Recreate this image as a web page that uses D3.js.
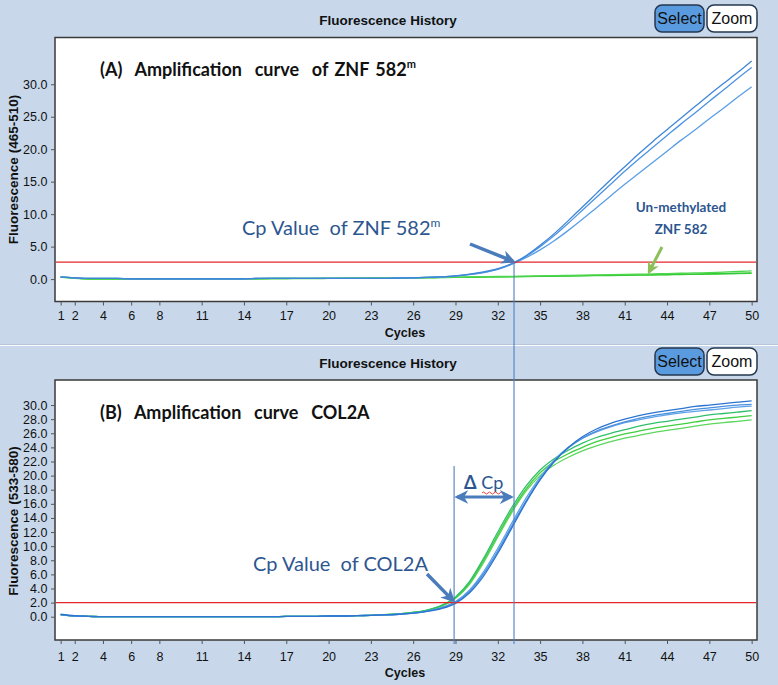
<!DOCTYPE html>
<html><head><meta charset="utf-8">
<script src="https://cdn.jsdelivr.net/npm/d3@7"></script>
<style>html,body{margin:0;padding:0;background:#c8d8ea;} svg{display:block}</style>
</head><body><svg id="c" width="778" height="685"></svg>
<script>
// ---------------- DATA ----------------
const cycles = [1,2,3,4,5,6,7,8,9,10,11,12,13,14,15,16,17,18,19,20,21,22,23,24,25,26,27,28,29,30,31,32,33,34,35,36,37,38,39,40,41,42,43,44,45,46,47,48,49,50];
const xTickLabels = [1,2,4,6,8,11,14,17,20,23,26,29,32,35,38,41,44,47,50];
const yTicksA = [0,5,10,15,20,25,30];
const yTicksB = [0,2,4,6,8,10,12,14,16,18,20,22,24,26,28,30];

// Panel A: ZNF 582 (465-510) – methylated (blue) and un-methylated (green)
const aBlue1 = [0.3,0.2,0.1,0.1,0.1,0.05,0.05,0.05,0.05,0.05,0.05,0.05,0.05,0.05,0.1,0.1,0.1,0.1,0.1,0.1,0.1,0.1,0.1,0.1,0.15,0.2,0.25,0.35,0.5,0.75,1.1,1.6,2.4,3.6,5.2,7.0,9.0,11.1,13.2,15.3,17.3,19.3,21.2,23.0,24.8,26.6,28.4,30.1,31.8,33.6];
const aBlue2 = [0.3,0.2,0.1,0.1,0.1,0.05,0.05,0.05,0.05,0.05,0.05,0.05,0.05,0.05,0.1,0.1,0.1,0.1,0.1,0.1,0.1,0.1,0.1,0.1,0.15,0.2,0.25,0.35,0.5,0.72,1.05,1.55,2.35,3.5,5.0,6.7,8.6,10.6,12.6,14.6,16.6,18.5,20.3,22.1,23.9,25.6,27.4,29.1,30.9,32.6];
const aBlue3 = [0.3,0.2,0.1,0.1,0.1,0.05,0.05,0.05,0.05,0.05,0.05,0.05,0.05,0.05,0.1,0.1,0.1,0.1,0.1,0.1,0.1,0.1,0.1,0.1,0.15,0.2,0.25,0.33,0.45,0.68,1.0,1.5,2.3,3.3,4.5,5.9,7.5,9.2,11.0,12.8,14.6,16.3,18.0,19.7,21.4,23.0,24.7,26.3,28.0,29.6];
const aGreen1 = [0.35,0.15,0.05,0.05,0.05,0.05,0.05,0.05,0.05,0.05,0.05,0.05,0.05,0.05,0.05,0.1,0.1,0.1,0.1,0.1,0.12,0.14,0.15,0.16,0.18,0.2,0.22,0.25,0.28,0.3,0.33,0.36,0.39,0.42,0.45,0.48,0.5,0.53,0.56,0.6,0.62,0.65,0.68,0.71,0.75,0.78,0.82,0.86,0.9,0.95];
const aGreen2 = [0.3,0.1,0.0,0.0,0.0,0.0,0.0,0.0,0.05,0.05,0.05,0.05,0.05,0.05,0.05,0.05,0.05,0.08,0.08,0.1,0.1,0.12,0.13,0.15,0.16,0.18,0.2,0.22,0.25,0.27,0.3,0.33,0.36,0.39,0.42,0.45,0.48,0.5,0.53,0.55,0.58,0.6,0.63,0.66,0.7,0.73,0.76,0.8,0.84,0.88];
const aGreen3 = [0.35,0.15,0.05,0.05,0.05,0.05,0.05,0.05,0.05,0.05,0.05,0.05,0.05,0.08,0.08,0.1,0.1,0.1,0.12,0.12,0.14,0.15,0.17,0.19,0.2,0.22,0.25,0.28,0.3,0.33,0.36,0.4,0.43,0.46,0.5,0.53,0.57,0.6,0.64,0.68,0.72,0.76,0.8,0.85,0.9,0.95,1.0,1.08,1.17,1.28];
const thresholdA = 2.6;
const cpA = 33.15;

// Panel B: COL2A (533-580)
const bBlue1 = [0.35,0.15,0.05,0.0,0.0,0.0,0.0,0.0,0.0,0.0,0.0,0.0,0.0,0.0,0.0,0.0,0.05,0.05,0.05,0.1,0.1,0.15,0.2,0.25,0.35,0.5,0.75,1.15,1.9,3.4,5.8,9.0,12.6,16.2,19.4,22.0,24.0,25.5,26.6,27.4,28.0,28.5,28.9,29.2,29.5,29.8,30.0,30.2,30.4,30.6];
const bBlue2 = [0.3,0.1,0.05,0.0,0.0,0.0,0.0,0.0,0.0,0.0,0.0,0.0,0.0,0.0,0.0,0.0,0.05,0.05,0.05,0.1,0.1,0.15,0.2,0.25,0.35,0.5,0.8,1.25,2.05,3.6,6.1,9.3,12.9,16.4,19.5,22.0,23.9,25.3,26.3,27.0,27.6,28.1,28.5,28.8,29.1,29.4,29.6,29.8,30.0,30.1];
const bBlue3 = [0.3,0.1,0.05,0.0,0.0,0.0,0.0,0.0,0.0,0.0,0.0,0.0,0.0,0.0,0.0,0.0,0.05,0.05,0.05,0.1,0.1,0.15,0.2,0.25,0.35,0.52,0.8,1.3,2.15,3.8,6.4,9.7,13.3,16.8,19.8,22.2,24.0,25.3,26.2,26.9,27.5,27.9,28.3,28.6,28.9,29.1,29.3,29.5,29.7,29.85];
const bGreen1 = [0.3,0.1,0.05,0.0,0.0,0.0,0.0,0.0,0.0,0.0,0.0,0.0,0.0,0.0,0.0,0.0,0.05,0.05,0.05,0.1,0.1,0.15,0.2,0.3,0.4,0.6,0.95,1.6,2.8,5.0,8.3,12.0,15.5,18.5,20.8,22.4,23.6,24.6,25.4,26.0,26.5,27.0,27.4,27.7,28.0,28.3,28.6,28.8,29.0,29.2];
const bGreen2 = [0.3,0.1,0.05,0.0,0.0,0.0,0.0,0.0,0.0,0.0,0.0,0.0,0.0,0.0,0.0,0.0,0.05,0.05,0.05,0.1,0.1,0.15,0.2,0.3,0.4,0.6,0.95,1.55,2.7,4.8,8.0,11.6,15.1,18.1,20.4,22.0,23.1,24.0,24.8,25.4,25.9,26.3,26.7,27.0,27.3,27.6,27.9,28.1,28.3,28.5];
const bGreen3 = [0.3,0.1,0.05,0.0,0.0,0.0,0.0,0.0,0.0,0.0,0.0,0.0,0.0,0.0,0.0,0.0,0.05,0.05,0.05,0.1,0.1,0.15,0.2,0.3,0.4,0.6,0.9,1.5,2.6,4.6,7.7,11.3,14.8,17.8,20.0,21.5,22.6,23.5,24.2,24.8,25.3,25.7,26.1,26.4,26.7,27.0,27.3,27.5,27.7,27.9];
const thresholdB = 2.0;
const cpB = 28.9;

// ---------------- DRAWING ----------------
const svg = d3.select('#c');
const W = 778, H = 685;
const BG = '#c8d8ea';
svg.append('rect').attr('width', W).attr('height', H).attr('fill', BG);
// separator between the two panels
svg.append('line').attr('x1',0).attr('x2',W).attr('y1',344.5).attr('y2',344.5).attr('stroke','#b3c5d9');
svg.append('line').attr('x1',0).attr('x2',W).attr('y1',345.5).attr('y2',345.5).attr('stroke','#ffffff').attr('stroke-width',1.2);

const defs = svg.append('defs');
function marker(id, color, size){
  defs.append('marker').attr('id', id).attr('viewBox','0 0 10 10').attr('refX',8).attr('refY',5)
    .attr('markerWidth', size).attr('markerHeight', size).attr('orient','auto-start-reverse')
    .attr('markerUnits','userSpaceOnUse')
    .append('path').attr('d','M0,0 L10,5 L0,10 L3,5 Z').attr('fill', color);
}
marker('arrBlue', '#4a7cbc', 14);
marker('arrGreen', '#8cbf5a', 12);

const x = d3.scaleLinear().domain([0.6, 50.38]).range([55, 757]);

function panel(cfg){
  const g = svg.append('g');
  const {top, bottom, yDomain, yTicks, fmt, offset, label} = cfg;
  const y = d3.scaleLinear().domain(yDomain).range([bottom, top]);
  // header
  g.append('text').attr('x', 388).attr('y', 25 + offset).attr('text-anchor','middle')
    .attr('font-family','Liberation Sans Narrow, Liberation Sans, Arial, sans-serif').attr('font-weight','bold')
    .attr('font-size', 13.5).attr('fill','#111').text('Fluorescence History');
  g.append('rect').attr('x',655).attr('y',5+offset).attr('width',49).attr('height',27).attr('rx',7)
    .attr('fill','#5a9be0').attr('stroke','#24374f').attr('stroke-width',1.5);
  g.append('text').attr('x',679.5).attr('y',24+offset).attr('text-anchor','middle')
    .attr('font-family','Liberation Sans Narrow, Liberation Sans, sans-serif').attr('font-size',16).attr('fill','#111').text('Select');
  g.append('rect').attr('x',707).attr('y',5+offset).attr('width',50).attr('height',27).attr('rx',7)
    .attr('fill','#ffffff').attr('stroke','#24374f').attr('stroke-width',1.5);
  g.append('text').attr('x',732).attr('y',24+offset).attr('text-anchor','middle')
    .attr('font-family','Liberation Sans Narrow, Liberation Sans, sans-serif').attr('font-size',16).attr('fill','#111').text('Zoom');
  // plot box
  g.append('rect').attr('x',55).attr('y',top).attr('width',702).attr('height',bottom-top)
    .attr('fill','#ffffff').attr('stroke','#3a3a3a').attr('stroke-width',1.5);
  // axes
  const ax = g.append('g').attr('transform',`translate(0,${bottom})`)
    .call(d3.axisBottom(x).tickValues(xTickLabels).tickSize(4).tickSizeOuter(0).tickFormat(d3.format('d')));
  ax.select('.domain').remove();
  ax.selectAll('text').attr('font-family','Liberation Sans, Arial, sans-serif').attr('font-size',12.5).attr('fill','#111')
    .attr('y', cfg.tickLabelY).attr('dy','0.35em');
  ax.selectAll('line').attr('stroke','#555');
  const ay = g.append('g').attr('transform','translate(55,0)')
    .call(d3.axisLeft(y).tickValues(yTicks).tickSize(4).tickSizeOuter(0).tickFormat(d3.format(fmt)));
  ay.select('.domain').remove();
  ay.selectAll('text').attr('font-family','Liberation Sans, Arial, sans-serif').attr('font-size',12.5).attr('fill','#111').attr('dx','-0.05em');
  ay.selectAll('line').attr('stroke','#555');
  g.append('text').attr('x',405).attr('y',bottom + cfg.cyclesY).attr('text-anchor','middle')
    .attr('font-family','Liberation Sans, Arial, sans-serif').attr('font-weight','bold').attr('font-size',12.5).attr('fill','#111').text('Cycles');
  g.append('text').attr('transform',`translate(18,${(top+bottom)/2 + cfg.labelShift}) rotate(-90)`).attr('text-anchor','middle')
    .attr('font-family','Liberation Sans, Arial, sans-serif').attr('font-weight','bold').attr('font-size',13.5).attr('fill','#111').text(label);
  // clip
  const cid = 'clip' + offset;
  defs.append('clipPath').attr('id',cid).append('rect').attr('x',56).attr('y',top+1).attr('width',700).attr('height',bottom-top-2);
  const plot = g.append('g').attr('clip-path',`url(#${cid})`);
  const line = d3.line().x((d,i)=>x(cycles[i])).y(d=>y(d)).curve(d3.curveMonotoneX);
  cfg.series.forEach(s => {
    plot.append('path').attr('d', line(s.values)).attr('fill','none').attr('stroke', s.color).attr('stroke-width', s.w || 1.3);
  });
  // threshold
  plot.append('line').attr('x1',55).attr('x2',757).attr('y1',y(cfg.threshold)).attr('y2',y(cfg.threshold))
    .attr('stroke','#e3262a').attr('stroke-width',1.3);
  return {g, y};
}

const A = panel({top:37.5, bottom:301.5, yDomain:[-3.45, 37.2], yTicks:yTicksA, fmt:'.1f', offset:0,
  label:'Fluorescence (465-510)', labelShift:0, threshold:thresholdA, tickLabelY:14, cyclesY:35,
  series:[
    {values:aGreen2, color:'#3ccf3c'},{values:aGreen1, color:'#36c936'},{values:aGreen3, color:'#4fd64f'},
    {values:aBlue3, color:'#5a9fe6'},{values:aBlue2, color:'#4e94e0'},{values:aBlue1, color:'#3f86d8'}
  ]});

const B = panel({top:380, bottom:640, yDomain:[-3.3, 33.55], yTicks:yTicksB, fmt:'.1f', offset:343,
  label:'Fluorescence (533-580)', labelShift:11, threshold:thresholdB, tickLabelY:17, cyclesY:37,
  series:[
    {values:bGreen3, color:'#5cd65c'},{values:bGreen2, color:'#3fcf3f'},{values:bGreen1, color:'#2fbf6a'},
    {values:bBlue3, color:'#5ea2e8'},{values:bBlue2, color:'#4a90de'},{values:bBlue1, color:'#2b74d0'}
  ]});

// ---------------- ANNOTATIONS ----------------
const ann = svg.append('g');
const calibri = 'Lato, "Open Sans", sans-serif';
const darkBlue = '#2d5690';

function titleText(xx, yy, main, sup){
  const t = ann.append('text').attr('x',xx).attr('y',yy).attr('font-family',calibri).attr('font-weight','bold')
    .attr('font-size',18).attr('fill','#111').attr('word-spacing','2px').attr('xml:space','preserve').text(main);
  if (sup) t.append('tspan').attr('font-size',11).attr('dy',-8).text(sup);
}
titleText(100, 76, '(A)  Amplification  curve  of ZNF 582', 'm');
titleText(100, 419, '(B)  Amplification  curve  COL2A', null);

// Cp vertical lines
const vA = x(cpA), vB = x(cpB);
ann.append('line').attr('x1',vA).attr('x2',vA).attr('y1',A.y(thresholdA)).attr('y2',644).attr('stroke','#4f7fc0').attr('stroke-width',1.1);
ann.append('line').attr('x1',vB).attr('x2',vB).attr('y1',466).attr('y2',644).attr('stroke','#4f7fc0').attr('stroke-width',1.1);

// Cp value of ZNF 582m
const t1 = ann.append('text').attr('x',242).attr('y',235).attr('font-family',calibri).attr('font-size',20)
  .attr('fill',darkBlue).attr('xml:space','preserve').text('Cp Value  of ZNF 582');
t1.append('tspan').attr('font-size',12).attr('dy',-8).text('m');
ann.append('line').attr('x1',470).attr('y1',244).attr('x2',vA-1).attr('y2',A.y(thresholdA)-1)
  .attr('stroke','#4a7cbc').attr('stroke-width',3.5).attr('marker-end','url(#arrBlue)');

// Un-methylated ZNF 582
ann.append('text').attr('x',681).attr('y',212).attr('text-anchor','middle').attr('font-family',calibri).attr('font-weight','bold')
  .attr('font-size',13.5).attr('fill',darkBlue).text('Un-methylated');
ann.append('text').attr('x',681).attr('y',234).attr('text-anchor','middle').attr('font-family',calibri).attr('font-weight','bold')
  .attr('font-size',13.5).attr('fill',darkBlue).text('ZNF 582');
ann.append('line').attr('x1',662).attr('y1',247).attr('x2',649).attr('y2',272)
  .attr('stroke','#8cbf5a').attr('stroke-width',3).attr('marker-end','url(#arrGreen)');

// Delta Cp
const dt = ann.append('text').attr('x',464).attr('y',489).attr('font-family',calibri).attr('font-size',18).attr('fill',darkBlue).attr('xml:space','preserve');
dt.append('tspan').attr('font-weight','bold').text('Δ');
dt.append('tspan').text(' Cp');
ann.append('path').attr('d','M482,493 q1.5,-2 3,0 t3,0 t3,0 t3,0 t3,0 t3,0 t3,0').attr('fill','none').attr('stroke','#e03030').attr('stroke-width',0.9);
ann.append('line').attr('x1',vB+3).attr('y1',497).attr('x2',vA-3).attr('y2',497)
  .attr('stroke','#4a7cbc').attr('stroke-width',3).attr('marker-end','url(#arrBlue)').attr('marker-start','url(#arrBlue)');

// Cp value of COL2A
ann.append('text').attr('x',428).attr('y',571).attr('text-anchor','end').attr('font-family',calibri).attr('font-size',20)
  .attr('fill',darkBlue).attr('xml:space','preserve').text('Cp Value  of COL2A');
ann.append('line').attr('x1',427).attr('y1',574).attr('x2',vB-1).attr('y2',B.y(thresholdB)-2)
  .attr('stroke','#4a7cbc').attr('stroke-width',3.5).attr('marker-end','url(#arrBlue)');
</script>
</body></html>
